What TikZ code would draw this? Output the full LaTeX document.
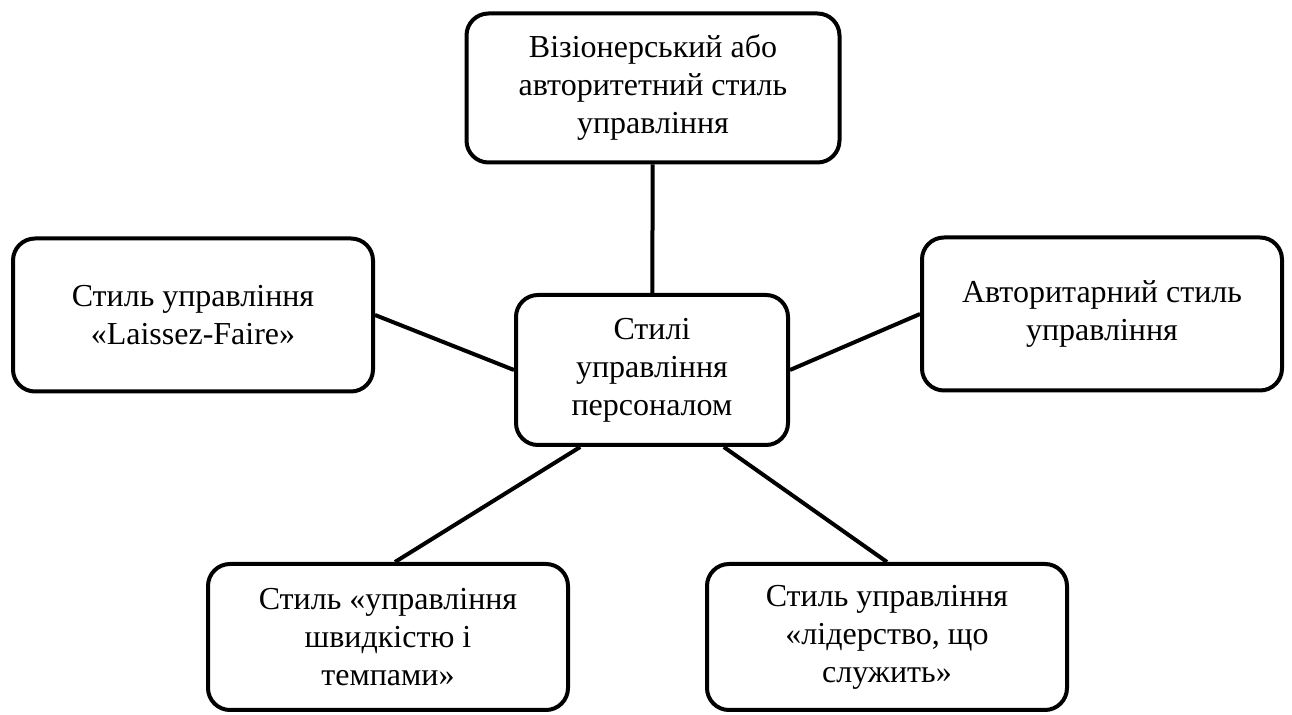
\documentclass[tikz,border=0pt]{standalone}
\usepackage{fontspec}
\setmainfont{Liberation Serif}
\usepackage{tikz}
\usetikzlibrary{positioning}

\begin{document}
\begin{tikzpicture}[x=0.5pt,y=-0.5pt,
  box/.style={draw,line width=2pt,rounded corners=11pt,align=center,inner sep=2pt,
    minimum width=180pt,minimum height=76.5pt,font=\fontsize{16}{19}\selectfont},
  link/.style={line width=2pt}]
  \useasboundingbox (0,0) rectangle (1292,715);
  \node[box,minimum width=186.5pt,minimum height=74.5pt] (viz) at (653,88) {Візіонерський або\\авторитетний стиль\\управління};
  \node[box] (lf) at (193,315) {Стиль управління\\«Laissez-Faire»};
  \node[box] (avt) at (1102,314) {Авторитарний стиль\\управління};
  \node[box,minimum width=136pt,minimum height=75pt] (st) at (652,370) {Стилі\\управління\\персоналом};
  \node[box,minimum height=73pt] (tmp) at (388,637) {Стиль «управління\\швидкістю і\\темпами»};
  \node[box,minimum height=73pt] (slg) at (887,637) {Стиль управління\\«лідерство, що\\служить»};
  % connectors from the centre box
  \draw[link] (viz) -- (st);
  \draw[link] (lf.east) -- (st.west);
  \draw[link] (st.east) -- (avt.west);
  \draw[link] (st.227) -- ([xshift=3.5pt]tmp.north);
  \draw[link] (st.313) -- (slg.north);
\end{tikzpicture}
\end{document}
